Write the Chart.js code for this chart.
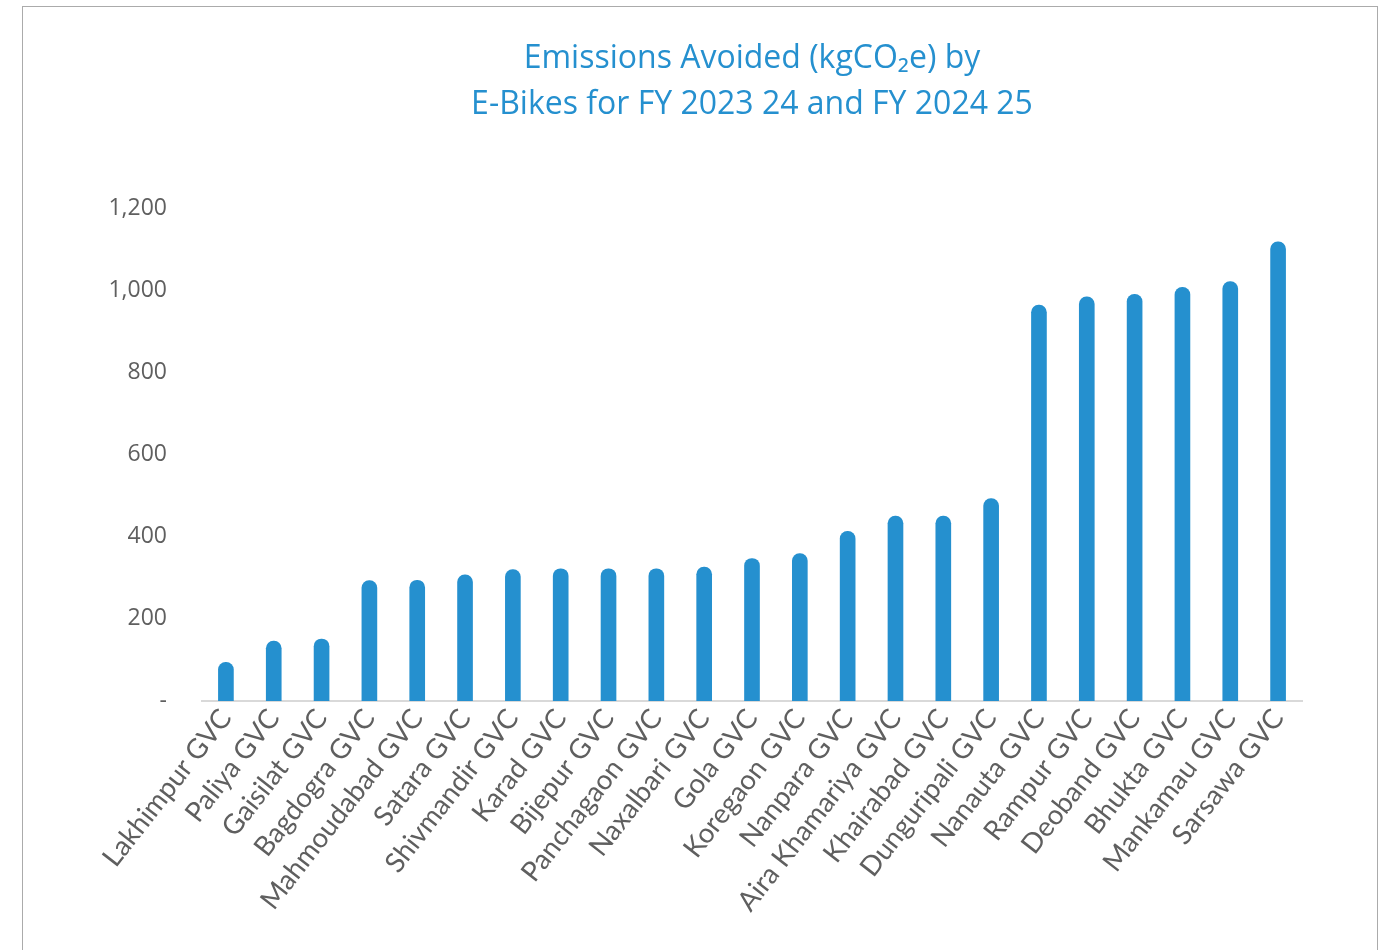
<!DOCTYPE html>
<html>
<head>
<meta charset="utf-8">
<script src="https://cdn.jsdelivr.net/npm/chart.js@4/dist/chart.umd.min.js"></script>
<style>
  html, body { margin: 0; padding: 0; background: #ffffff; overflow: hidden; }
  #wrap { position: relative; width: 1383px; height: 950px; }
  #frame {
    position: absolute; left: 22px; top: 6px; width: 1356px; height: 1000px;
    border: 1px solid #ababab; box-sizing: border-box; pointer-events: none;
  }
  canvas { position: absolute; left: 0; top: 0; }
</style>
</head>
<body>
<div id="wrap">
  <canvas id="chart" width="1383" height="950"></canvas>
  <div id="frame"></div>
</div>
<script>
// Centres and their emissions avoided by e-bikes (kgCO2e)
const centres = [
  'Lakhimpur GVC', 'Paliya GVC', 'Gaisilat GVC', 'Bagdogra GVC', 'Mahmoudabad GVC',
  'Satara GVC', 'Shivmandir GVC', 'Karad GVC', 'Bijepur GVC', 'Panchagaon GVC',
  'Naxalbari GVC', 'Gola GVC', 'Koregaon GVC', 'Nanpara GVC', 'Aira Khamariya GVC',
  'Khairabad GVC', 'Dunguripali GVC', 'Nanauta GVC', 'Rampur GVC', 'Deoband GVC',
  'Bhukta GVC', 'Mankamau GVC', 'Sarsawa GVC'
];
const emissionsAvoided = [
  94, 146, 151, 293, 294,
  307, 320, 322, 322, 322,
  326, 347, 359, 413, 450,
  450, 493, 964, 984, 990,
  1007, 1021, 1118
];
const titleLines = ['Emissions Avoided (kgCO\u2082e) by', 'E-Bikes for FY 2023 24 and FY 2024 25'];
const yTickValues = [0, 200, 400, 600, 800, 1000, 1200];

const BLUE = '#2590cf';
const GREY_TEXT = '#5f5f5f';
const FONT = "'Open Sans', 'Noto Sans', sans-serif";
const LABEL_FONT = "Lato, 'Open Sans', sans-serif";

new Chart(document.getElementById('chart'), {
  type: 'bar',
  data: {
    labels: centres,
    datasets: [{
      data: emissionsAvoided,
      backgroundColor: BLUE,
      barThickness: 15,
      borderRadius: { topLeft: 7.5, topRight: 7.5, bottomLeft: 0, bottomRight: 0 },
      borderSkipped: false
    }]
  },
  options: {
    responsive: false,
    animation: false,
    devicePixelRatio: 1,
    layout: { padding: { left: 22, right: 81, top: 36, bottom: 0 } },
    plugins: {
      legend: { display: false },
      tooltip: { enabled: false },
      title: {
        display: true,
        text: titleLines,
        color: BLUE,
        fullSize: false,
        font: { family: FONT, size: 32, weight: 'normal', lineHeight: 1.44 },
        padding: { top: 0, bottom: 80 }
      }
    },
    scales: {
      x: {
        grid: { display: false, drawTicks: false },
        border: { display: true, color: '#d9d9d9', width: 2 },
        ticks: {
          color: GREY_TEXT,
          font: { family: LABEL_FONT, size: 27.5 },
          minRotation: 52,
          maxRotation: 52,
          autoSkip: false,
          padding: 2
        },
        afterFit: (scale) => { scale.height = 249; }
      },
      y: {
        min: 0,
        max: 1200,
        grid: { display: false, drawTicks: false },
        border: { display: false },
        afterBuildTicks: (scale) => { scale.ticks = yTickValues.map(v => ({ value: v })); },
        ticks: {
          color: GREY_TEXT,
          font: { family: FONT, size: 23 },
          padding: 35,
          callback: (v) => v === 0 ? '-' : v.toLocaleString('en-US')
        },
        afterFit: (scale) => { scale.width = 180; }
      }
    }
  }
});
</script>
</body>
</html>
